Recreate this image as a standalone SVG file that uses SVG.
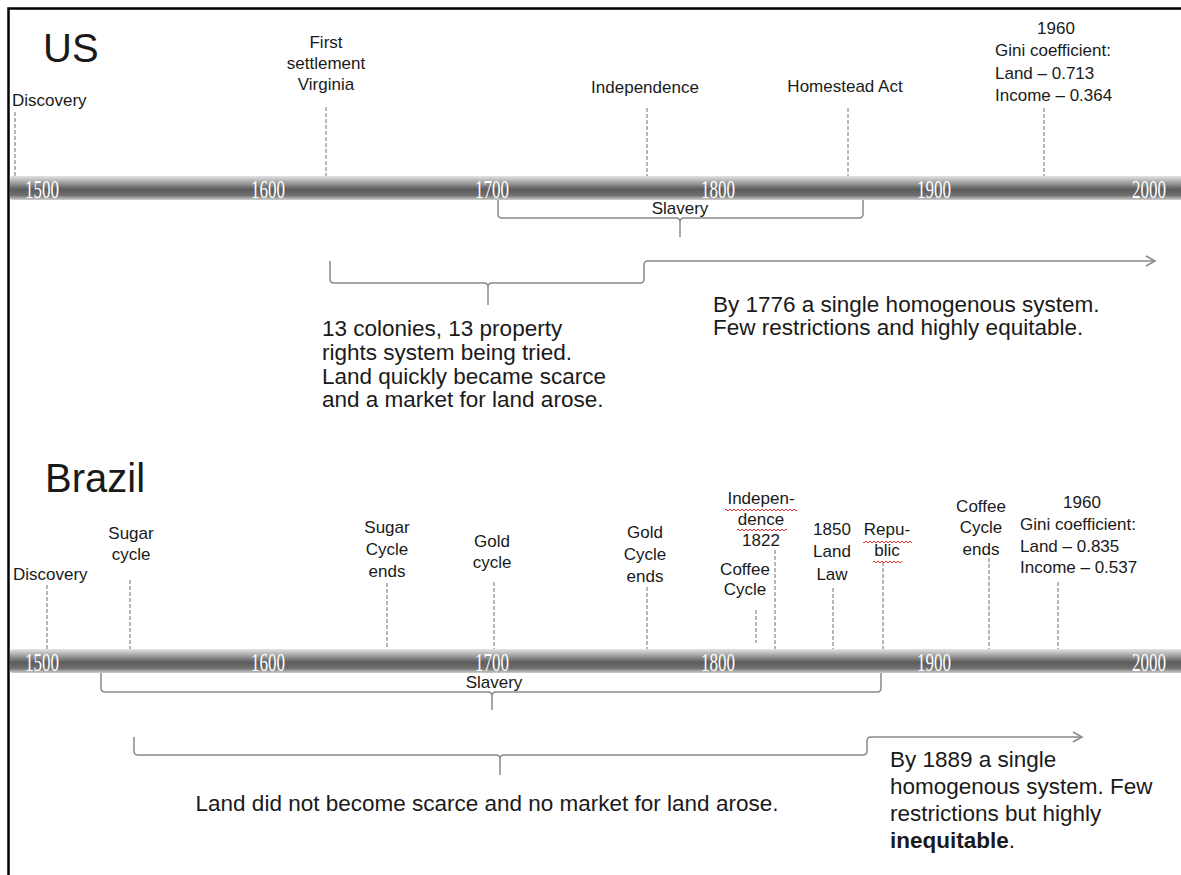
<svg xmlns="http://www.w3.org/2000/svg" width="1181" height="875" viewBox="0 0 1181 875">
<style>
text{font-family:"Liberation Sans",Arial,sans-serif;fill:#1a1a1a}
.lbl{font-size:17px}
.mid{text-anchor:middle}
.big{font-size:22.5px}
.title{font-size:40px}
.yr{font-family:"Liberation Serif","Times New Roman",serif;font-size:26px;fill:#fff}
.dash{stroke:#707070;stroke-width:1;stroke-dasharray:4 2;fill:none}
.brace{stroke:#8a8a8a;stroke-width:1.5;fill:none}
</style>
<defs>
<linearGradient id="barg" x1="0" y1="0" x2="0" y2="1">
<stop offset="0" stop-color="#e4e4e4"/>
<stop offset="0.2" stop-color="#b4b4b4"/>
<stop offset="0.55" stop-color="#5c5c5c"/>
<stop offset="0.8" stop-color="#6e6e6e"/>
<stop offset="1" stop-color="#cfcfcf"/>
</linearGradient>
<pattern id="wave" patternUnits="userSpaceOnUse" width="4" height="4">
<path d="M0,3 L2,1 L4,3" stroke="#e03030" stroke-width="1" fill="none"/>
</pattern>
<marker id="arr" markerWidth="12" markerHeight="12" refX="10" refY="6" orient="auto" markerUnits="userSpaceOnUse">
<path d="M1,1 L10,6 L1,11" fill="none" stroke="#8a8a8a" stroke-width="1.5"/>
</marker>
</defs>
<rect width="1181" height="875" fill="#fff"/>
<path d="M8.5,875 V8.5 H1181" fill="none" stroke="#000" stroke-width="2.5"/>

<g id="us-timeline">
<rect x="10" y="176" width="1180" height="24" rx="3" fill="url(#barg)"/>
<text class="yr" x="25" y="198" textLength="34" lengthAdjust="spacingAndGlyphs">1500</text>
<text class="yr" x="251" y="198" textLength="34" lengthAdjust="spacingAndGlyphs">1600</text>
<text class="yr" x="475" y="198" textLength="34" lengthAdjust="spacingAndGlyphs">1700</text>
<text class="yr" x="701" y="198" textLength="34" lengthAdjust="spacingAndGlyphs">1800</text>
<text class="yr" x="917" y="198" textLength="34" lengthAdjust="spacingAndGlyphs">1900</text>
<text class="yr" x="1132" y="198" textLength="34" lengthAdjust="spacingAndGlyphs">2000</text>
</g>

<g id="brazil-timeline">
<rect x="10" y="649" width="1180" height="24" rx="3" fill="url(#barg)"/>
<text class="yr" x="25" y="671" textLength="34" lengthAdjust="spacingAndGlyphs">1500</text>
<text class="yr" x="251" y="671" textLength="34" lengthAdjust="spacingAndGlyphs">1600</text>
<text class="yr" x="475" y="671" textLength="34" lengthAdjust="spacingAndGlyphs">1700</text>
<text class="yr" x="701" y="671" textLength="34" lengthAdjust="spacingAndGlyphs">1800</text>
<text class="yr" x="917" y="671" textLength="34" lengthAdjust="spacingAndGlyphs">1900</text>
<text class="yr" x="1132" y="671" textLength="34" lengthAdjust="spacingAndGlyphs">2000</text>
</g>

<g id="connectors">
<path class="dash" d="M15,112 V176 M326,107 V176 M647,108 V176 M848,108 V176 M1044,108 V176"/>
<path class="dash" d="M47,585 V649 M130,580 V649 M387,583 V649 M494,582 V649 M647,587 V649 M756,610 V643 M775,550 V649 M833,588 V649 M883,562 V649 M989,558 V649 M1058,582 V649"/>
<path class="brace" d="M498,200 V214 Q498,218 502,218 H676 Q680,218 680,222 V237 M680,222 Q680,218 684,218 H859 Q863,218 863,214 V200"/>
<path class="brace" d="M330,261 V279 Q330,283 334,283 H484 Q488,283 488,287 V305 M488,287 Q488,283 492,283 H640 Q644,283 644,279 V265 Q644,261 648,261 H1155" marker-end="url(#arr)"/>
<path class="brace" d="M101,673 V688 Q101,692 105,692 H488 Q492,692 492,696 V710 M492,696 Q492,692 496,692 H877 Q881,692 881,688 V673"/>
<path class="brace" d="M134,737 V751 Q134,755 138,755 H496 Q500,755 500,759 V775 M500,759 Q500,755 504,755 H863 Q867,755 867,751 V741 Q867,737 871,737 H1082" marker-end="url(#arr)"/>
</g>

<g id="us-title"><text class="title" x="43" y="62">US</text></g>
<g id="us-discovery"><text class="lbl" x="12" y="106">Discovery</text></g>
<g id="us-first-settlement"><text class="lbl mid" x="326" y="48">First</text><text class="lbl mid" x="326" y="69">settlement</text><text class="lbl mid" x="326" y="90">Virginia</text></g>
<g id="us-independence"><text class="lbl mid" x="645" y="93">Independence</text></g>
<g id="us-homestead"><text class="lbl mid" x="845" y="92">Homestead Act</text></g>
<g id="us-gini"><text class="lbl mid" x="1056" y="34">1960</text><text class="lbl" x="995" y="56">Gini coefficient:</text><text class="lbl" x="995" y="79">Land – 0.713</text><text class="lbl" x="995" y="101">Income – 0.364</text></g>
<g id="us-slavery"><text class="lbl mid" x="680" y="214">Slavery</text></g>
<g id="us-colonies"><text class="big" x="322" y="336">13 colonies, 13 property</text><text class="big" x="322" y="360">rights system being tried.</text><text class="big" x="322" y="384">Land quickly became scarce</text><text class="big" x="322" y="407">and a market for land arose.</text></g>
<g id="us-1776"><text class="big" x="713" y="312">By 1776 a single homogenous system.</text><text class="big" x="713" y="335">Few restrictions and highly equitable.</text></g>

<g id="br-title"><text class="title" x="45" y="492">Brazil</text></g>
<g id="br-discovery"><text class="lbl" x="13" y="580">Discovery</text></g>
<g id="br-sugar"><text class="lbl mid" x="131" y="539">Sugar</text><text class="lbl mid" x="131" y="560">cycle</text></g>
<g id="br-sugar-ends"><text class="lbl mid" x="387" y="533">Sugar</text><text class="lbl mid" x="387" y="555">Cycle</text><text class="lbl mid" x="387" y="577">ends</text></g>
<g id="br-gold"><text class="lbl mid" x="492" y="547">Gold</text><text class="lbl mid" x="492" y="568">cycle</text></g>
<g id="br-gold-ends"><text class="lbl mid" x="645" y="538">Gold</text><text class="lbl mid" x="645" y="560">Cycle</text><text class="lbl mid" x="645" y="582">ends</text></g>
<g id="br-independence"><text class="lbl mid" x="761" y="504">Indepen-</text><text class="lbl mid" x="761" y="525">dence</text><text class="lbl mid" x="761" y="546">1822</text><rect x="725" y="508" width="72" height="4" fill="url(#wave)"/><rect x="737" y="528" width="50" height="4" fill="url(#wave)"/></g>
<g id="br-coffee"><text class="lbl mid" x="745" y="575">Coffee</text><text class="lbl mid" x="745" y="595">Cycle</text></g>
<g id="br-land-law"><text class="lbl mid" x="832" y="535">1850</text><text class="lbl mid" x="832" y="557">Land</text><text class="lbl mid" x="832" y="580">Law</text></g>
<g id="br-republic"><text class="lbl mid" x="887" y="535">Repu-</text><text class="lbl mid" x="887" y="556">blic</text><rect x="863" y="540" width="49" height="4" fill="url(#wave)"/><rect x="873" y="560" width="29" height="4" fill="url(#wave)"/></g>
<g id="br-coffee-ends"><text class="lbl mid" x="981" y="512">Coffee</text><text class="lbl mid" x="981" y="533">Cycle</text><text class="lbl mid" x="981" y="555">ends</text></g>
<g id="br-gini"><text class="lbl mid" x="1082" y="508">1960</text><text class="lbl" x="1020" y="530">Gini coefficient:</text><text class="lbl" x="1020" y="552">Land – 0.835</text><text class="lbl" x="1020" y="573">Income – 0.537</text></g>
<g id="br-slavery"><text class="lbl mid" x="494" y="688">Slavery</text></g>
<g id="br-no-market"><text class="big mid" x="487" y="811">Land did not become scarce and no market for land arose.</text></g>
<g id="br-1889"><text class="big" x="890" y="767">By 1889 a single</text><text class="big" x="890" y="794">homogenous system. Few</text><text class="big" x="890" y="821">restrictions but highly</text><text class="big" x="890" y="848"><tspan font-weight="bold">inequitable</tspan>.</text></g>
</svg>
